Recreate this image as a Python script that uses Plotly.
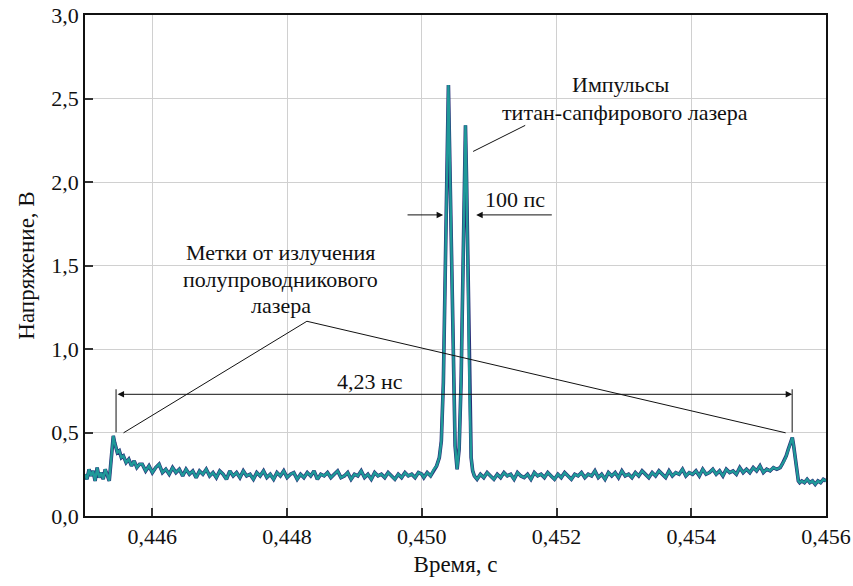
import numpy as np
import plotly.graph_objects as go

# ---- data ----
# segment 1: left noisy baseline, uniform step
seg1_t0, seg1_dt = 0.44500, 0.00003
seg1_v = [0.25, 0.22, 0.28, 0.24, 0.27, 0.21, 0.29, 0.23, 0.26, 0.22, 0.28, 0.24, 0.21]

# left marker pulse (semiconductor laser)
mark1_t = [0.44538, 0.44540, 0.44542, 0.44544, 0.44546, 0.44548, 0.44551, 0.44554,
           0.44557, 0.44561, 0.44565, 0.44569, 0.44573, 0.44577, 0.44581]
mark1_v = [0.30, 0.42, 0.48, 0.44, 0.41, 0.38, 0.39, 0.35, 0.36, 0.32, 0.34, 0.30,
           0.33, 0.29, 0.31]

# segment 2: baseline up to the Ti:sapphire pulses
seg2_t0, seg2_dt = 0.44585, 0.00005
seg2_v = [0.31, 0.27, 0.30, 0.26, 0.29, 0.31, 0.26, 0.28, 0.25, 0.29, 0.26, 0.28,
          0.24, 0.28, 0.25, 0.27, 0.23, 0.27, 0.25, 0.28, 0.24, 0.26, 0.23, 0.27,
          0.25, 0.22, 0.27, 0.24, 0.26, 0.23, 0.27, 0.24, 0.25, 0.22, 0.26, 0.24,
          0.27, 0.23, 0.25, 0.22, 0.26, 0.24, 0.27, 0.23, 0.25, 0.26, 0.22, 0.25,
          0.23, 0.26, 0.24, 0.27, 0.22, 0.25, 0.24, 0.26, 0.23, 0.25, 0.27, 0.23,
          0.24, 0.26, 0.22, 0.25, 0.24, 0.27, 0.23, 0.25, 0.22, 0.26, 0.24, 0.25,
          0.23, 0.26, 0.24, 0.22, 0.25, 0.23, 0.26, 0.24, 0.25, 0.23, 0.26, 0.25]

# Ti:sapphire laser pulses
pulse_t = [0.45003, 0.45008, 0.45013, 0.45018, 0.45022, 0.45026, 0.45029, 0.45032,
           0.45035, 0.450368, 0.45038, 0.450395, 0.45041, 0.450425, 0.45044, 0.450465,
           0.450494, 0.450524, 0.450554, 0.450583, 0.450613, 0.450632, 0.450648,
           0.450665, 0.450688, 0.45071, 0.450732, 0.450755, 0.45078]
pulse_v = [0.23, 0.26, 0.24, 0.28, 0.30, 0.35, 0.45, 0.80, 1.50, 2.05, 2.45, 2.58,
           2.25, 1.90, 1.50, 0.85, 0.42, 0.28, 0.40, 0.80, 1.50, 2.00, 2.34, 2.00,
           1.30, 0.70, 0.35, 0.27, 0.24]

# segment 3: baseline after the pulses
seg3_t0, seg3_dt = 0.45082, 0.00005
seg3_v = [0.22, 0.25, 0.23, 0.26, 0.24, 0.22, 0.25, 0.23, 0.26, 0.24,
          0.25, 0.22, 0.26, 0.24, 0.23, 0.25, 0.22, 0.26, 0.24, 0.25,
          0.23, 0.26, 0.24, 0.22, 0.25, 0.23, 0.26, 0.24, 0.22, 0.25,
          0.24, 0.26, 0.23, 0.25, 0.24, 0.27, 0.23, 0.25, 0.22, 0.26,
          0.24, 0.26, 0.23, 0.27, 0.24, 0.25, 0.23, 0.26, 0.24, 0.27,
          0.25, 0.23, 0.26, 0.24, 0.27, 0.25, 0.23, 0.27, 0.24, 0.26,
          0.25, 0.28, 0.24, 0.26, 0.25, 0.27, 0.24, 0.28, 0.25, 0.26,
          0.28, 0.25, 0.27, 0.24, 0.28, 0.26, 0.27, 0.25, 0.29, 0.26,
          0.28, 0.26, 0.29, 0.27, 0.30, 0.26, 0.28, 0.27, 0.29, 0.28,
          0.29]

# right marker pulse
mark2_t = [0.45535, 0.45538, 0.45541, 0.45544, 0.45547, 0.45550, 0.45552, 0.45555,
           0.45557, 0.45559, 0.45561]
mark2_v = [0.31, 0.33, 0.36, 0.40, 0.44, 0.47, 0.42, 0.34, 0.26, 0.21, 0.20]

# segment 4: flat tail
seg4_t0, seg4_dt = 0.45564, 0.00004
seg4_v = [0.21, 0.20, 0.22, 0.20, 0.21, 0.19, 0.21, 0.20, 0.22, 0.21]

x_ticks = [0.446, 0.448, 0.450, 0.452, 0.454, 0.456]
y_ticks = [0, 0.5, 1.0, 1.5, 2.0, 2.5, 3.0]

# ---- assemble ----
def seg(t0, dt, v):
    return list(t0 + dt * np.arange(len(v))), list(v)

t, v = [], []
for tt, vv in [seg(seg1_t0, seg1_dt, seg1_v), (mark1_t, mark1_v),
               seg(seg2_t0, seg2_dt, seg2_v), (pulse_t, pulse_v),
               seg(seg3_t0, seg3_dt, seg3_v), (mark2_t, mark2_v),
               seg(seg4_t0, seg4_dt, seg4_v)]:
    t += list(tt)
    v += list(vv)

FONT = "Liberation Serif, DejaVu Serif, serif"
fig = go.Figure()
fig.add_trace(go.Scatter(x=t, y=v, mode="lines",
                         line=dict(color="#2a2f78", width=3.6), hoverinfo="skip"))
fig.add_trace(go.Scatter(x=t, y=v, mode="lines",
                         line=dict(color="#1f9999", width=2.4), hoverinfo="skip"))

txt = dict(size=22, color="#111", family=FONT)
ann = []
def label(x, y, s):
    ann.append(dict(x=x, y=y, xref="x", yref="y", text=s, showarrow=False, font=txt))

def arrow(x0, y0, x1, y1, side="end", head=2):
    ann.append(dict(x=x1, y=y1, ax=x0, ay=y0, xref="x", yref="y", axref="x", ayref="y",
                    text="", showarrow=True, arrowhead=head, arrowsize=1.3, arrowwidth=1,
                    arrowside=side, arrowcolor="#111", standoff=0, startstandoff=0,
                    startarrowhead=head, startarrowsize=1.3))

label(0.452948, 2.585, "Импульсы")
label(0.453022, 2.417, "титан-сапфирового лазера")
label(0.451387, 1.896, "100 пс")
label(0.449230, 0.807, "4,23 нс")
label(0.447907, 1.579, "Метки от излучения")
label(0.447907, 1.417, "полупроводникового")
label(0.447907, 1.261, "лазера")

arrow(0.449766, 1.803, 0.450316, 1.803)
arrow(0.451952, 1.803, 0.450807, 1.803)
arrow(0.445461, 0.7287, 0.455498, 0.7287, side="end+start")

shapes = []
def seg_line(x0, y0, x1, y1):
    shapes.append(dict(type="line", xref="x", yref="y", x0=x0, y0=y0, x1=x1, y1=y1,
                       line=dict(color="#111", width=1)))

seg_line(0.451535, 2.339, 0.450762, 2.183)
seg_line(0.448294, 1.166, 0.445572, 0.498)
seg_line(0.448294, 1.166, 0.455401, 0.498)
seg_line(0.445461, 0.759, 0.445461, 0.501)
seg_line(0.455498, 0.759, 0.455498, 0.501)

fig.update_layout(
    width=853, height=586,
    margin=dict(l=85, r=27, t=15, b=70),
    paper_bgcolor="white", plot_bgcolor="white",
    showlegend=False, separators=", ",
    font=dict(family=FONT, size=22, color="#111"),
    annotations=ann, shapes=shapes,
)
fig.update_xaxes(range=[0.445, 0.4560002], tickvals=x_ticks, tickformat=".3f",
                 automargin=False, tickfont=dict(family=FONT, size=22),
                 showgrid=True, gridcolor="#d0d0d0", gridwidth=1.2,
                 showline=True, linecolor="#111", linewidth=1.5, mirror=True,
                 ticks="inside", ticklen=8, tickcolor="#333", tickwidth=1.5,
                 zeroline=False,
                 title=dict(text="Время, с", font=dict(size=23, family=FONT), standoff=8))
fig.update_yaxes(range=[0, 3.0], tickvals=y_ticks, tickformat=".1f",
                 automargin=False, tickfont=dict(family=FONT, size=22),
                 showgrid=True, gridcolor="#d0d0d0", gridwidth=1.2,
                 showline=True, linecolor="#111", linewidth=1.5, mirror=True,
                 ticks="inside", ticklen=8, tickcolor="#333", tickwidth=1.5,
                 zeroline=False,
                 title=dict(text="Напряжение, В", font=dict(size=23, family=FONT), standoff=10))

fig.write_html("out.html")
